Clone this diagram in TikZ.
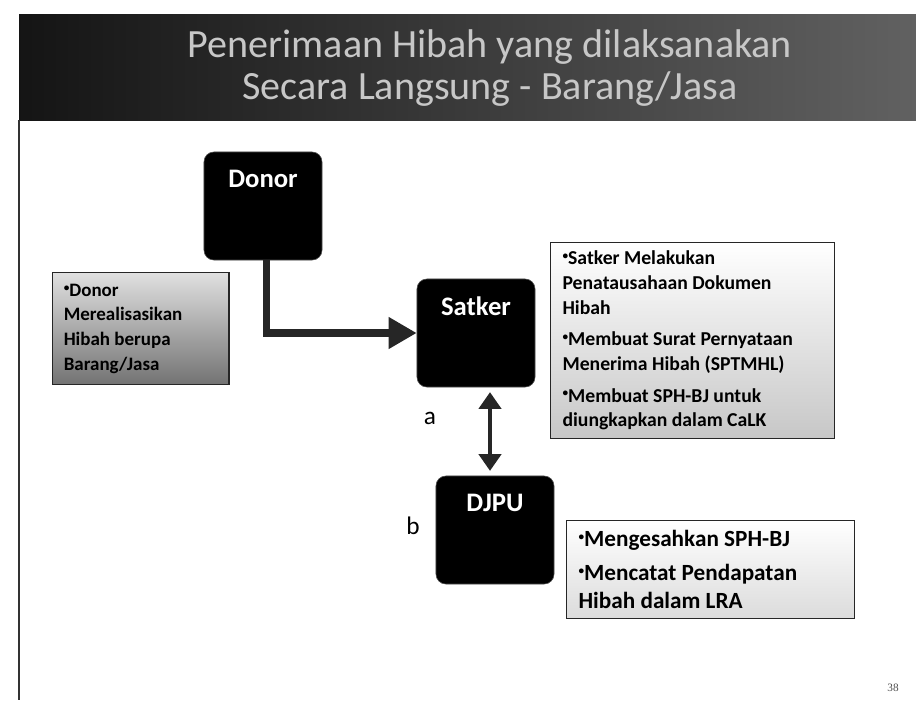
\documentclass[tikz,border=0pt]{standalone}
\usepackage{fontspec}
\setmainfont{Carlito}
\newfontfamily\pagenumfont{Liberation Serif}
\usetikzlibrary{positioning,arrows.meta}
\newcommand{\itemdot}{\raisebox{0.55ex}{\footnotesize\textbullet}}

\begin{document}
\begin{tikzpicture}[x=0.025cm, y=-0.025cm,
        darkbox/.style={rectangle, rounded corners=7pt, fill=black, draw=black!70, minimum width=2.95cm, minimum height=2.7cm},
        boxlabel/.style={anchor=center, yshift=-0.68cm, text=white, font=\bfseries\fontsize{19}{22}\selectfont},
        notebox/.style={rectangle, draw=black!85, thick, align=flush left, inner xsep=0.28cm, anchor=north west},
        flowarrow/.style={draw=black!85, line width=5pt, -{Triangle[length=0.7cm, width=0.75cm]}},
        linkarrow/.style={draw=black!85, line width=3pt, {Triangle[length=0.42cm, width=0.55cm]}-{Triangle[length=0.42cm, width=0.55cm]}, shorten <=0.12cm, shorten >=0.12cm},
        steplabel/.style={font=\fontsize{18}{20}\selectfont},
]
        \useasboundingbox (0,0) rectangle (916,700);

        % slide frame and title
        \fill[left color=black!92, right color=black!62] (19,14) rectangle (916,120);
        \draw[black!80, line width=1pt] (19,120) -- (19,700);
        \node[text=black!22, align=center, font=\fontsize{28.5}{30}\selectfont] (title) at (490,68)
            {Penerimaan Hibah yang dilaksanakan\\Secara Langsung - Barang/Jasa};

        % the three parties
        \node[darkbox, label={[boxlabel]north:Donor}] (donor) at (263,206) {};
        \node[darkbox, label={[boxlabel]north:Satker}] (satker) at (476,333) {};
        \node[darkbox, label={[boxlabel]north:DJPU}] (djpu) at (495,530) {};

        % notes
        \node[notebox, top color=black!12, bottom color=black!55, minimum width=4.4cm, minimum height=2.8cm,
              text width=3.85cm, font=\bfseries\fontsize{13.5}{17.5}\selectfont] (donornote) at (52,272)
            {\itemdot Donor\\Merealisasikan\\Hibah berupa\\Barang/Jasa};
        \node[notebox, top color=white, bottom color=black!22, minimum width=7.1cm, minimum height=4.9cm,
              text width=6.5cm, font=\bfseries\fontsize{14}{17.5}\selectfont] (satkernote) at (550,242)
            {\itemdot Satker Melakukan\\Penatausahaan Dokumen\\Hibah\\[5pt]
             \itemdot Membuat Surat Pernyataan\\Menerima Hibah (SPTMHL)\\[5pt]
             \itemdot Membuat SPH-BJ untuk\\diungkapkan dalam CaLK};
        \node[notebox, top color=white, bottom color=black!14, minimum width=7.2cm, minimum height=2.45cm,
              text width=6.6cm, font=\bfseries\fontsize{16.5}{20}\selectfont] (djpunote) at (566,520)
            {\itemdot Mengesahkan SPH-BJ\\[4pt]
             \itemdot Mencatat Pendapatan\\Hibah dalam LRA};

        % connectors
        \coordinate (link) at (490,0);
        \draw[flowarrow] ([xshift=0.08cm]donor.south) |- (satker.west);
        \draw[linkarrow] (satker.south -| link) -- (djpu.north -| link);

        \node[steplabel] (lbla) at (430,418) {a};
        \node[steplabel] (lblb) at (413,526) {b};

        \node[text=black!70, font=\pagenumfont\fontsize{8}{9}\selectfont] (pagenum) at (893,688) {38};
\end{tikzpicture}
\end{document}
